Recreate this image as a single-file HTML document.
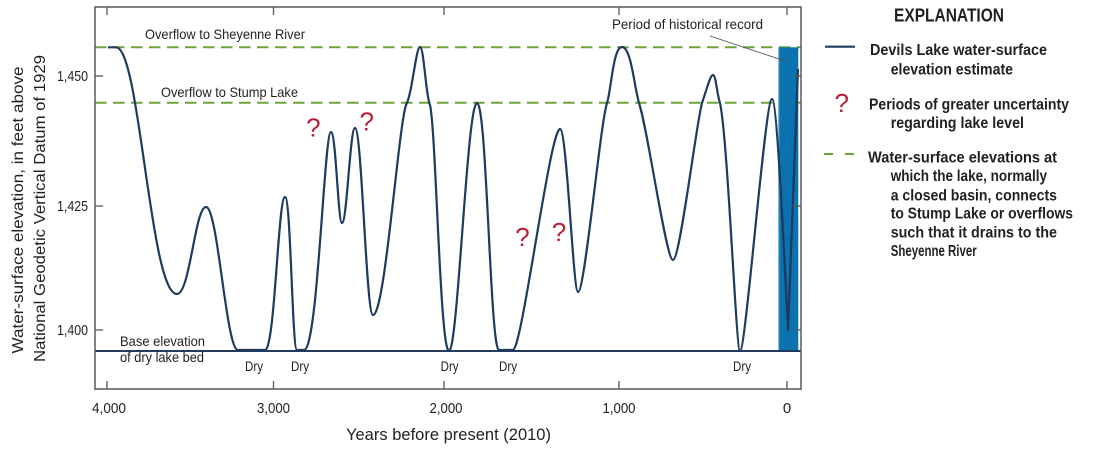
<!DOCTYPE html>
<html>
<head>
<meta charset="utf-8">
<style>
  html, body { margin: 0; padding: 0; background: #ffffff; }
  svg { display: block; }
  text { font-family: "Liberation Sans Narrow", "Liberation Sans", sans-serif; fill: #231f20; }
  .b { font-weight: bold; }
</style>
</head>
<body>
<svg width="1093" height="449" viewBox="0 0 1093 449" xmlns="http://www.w3.org/2000/svg">
  <rect x="0" y="0" width="1093" height="449" fill="#ffffff"/>

  <!-- green dashed overflow lines -->
  <line x1="95" y1="47.3" x2="801" y2="47.3" stroke="#6ea33a" stroke-width="2" stroke-dasharray="11.5 6.5"/>
  <line x1="95" y1="102.7" x2="801" y2="102.7" stroke="#6ea33a" stroke-width="2" stroke-dasharray="11.5 6.5"/>

  <!-- historical record bar -->
  <rect x="778.3" y="47.3" width="20" height="303.5" fill="#0a72ad"/>
  <line x1="778.8" y1="47.3" x2="778.8" y2="350.8" stroke="#6fb0da" stroke-width="1"/>

  <!-- base elevation line -->
  <line x1="95" y1="351" x2="801" y2="351" stroke="#243a5e" stroke-width="2"/>

  <!-- lake level curve -->
  <path fill="none" stroke="#1e3a5f" stroke-width="2.2" stroke-linejoin="round" d="
    M108,47.3 L116,47.3
    C140,47.3 150,294 177,294
    C190,294 195,207 206,207
    C218,207 226,350 238,350
    L265,350
    C275,350 278,197 285,197
    C291,197 292,350 297,350
    L304,350
    C318,350 324,132 331,132
    C336,132 338,223 342,223
    C347,223 350,128 355,128
    C362,128 366,315 373,315
    C385,315 398,130 406,105
    C412,95 416,47 420,47
    C424,47 426,98 430,105
    C436,130 440,351 449,351
    C458,351 467,103 477,103
    C487,103 490,350 499,350
    L513,350
    C522,350 550,129 560,129
    C567,129 573,292 578,292
    C585,292 600,125 607,103
    C611,92 613,47 622,47
    C631,47 634,85 639,103
    C648,130 666,260 673,260
    C680,260 696,125 702,103
    C706,92 710,75 713,75
    C716,75 717,95 720,103
    C728,140 736,351 740,351
    C746,351 765,99 772,99
    C777,99 784,250 788,330
    L798,69"/>

  <!-- frame -->
  <rect x="95" y="7" width="706" height="382" fill="none" stroke="#58595b" stroke-width="1.5"/>

  <!-- ticks -->
  <g stroke="#58595b" stroke-width="1.3">
    <line x1="95" y1="76" x2="103" y2="76"/>
    <line x1="95" y1="206" x2="103" y2="206"/>
    <line x1="95" y1="330" x2="103" y2="330"/>
    <line x1="801" y1="76" x2="793" y2="76"/>
    <line x1="801" y1="206" x2="793" y2="206"/>
    <line x1="801" y1="330" x2="793" y2="330"/>
    <line x1="107" y1="7" x2="107" y2="15"/>
    <line x1="273.5" y1="7" x2="273.5" y2="15"/>
    <line x1="444" y1="7" x2="444" y2="15"/>
    <line x1="619" y1="7" x2="619" y2="15"/>
    <line x1="787" y1="7" x2="787" y2="15"/>
    <line x1="107" y1="389" x2="107" y2="381"/>
    <line x1="273.5" y1="389" x2="273.5" y2="381"/>
    <line x1="444" y1="389" x2="444" y2="381"/>
    <line x1="619" y1="389" x2="619" y2="381"/>
    <line x1="787" y1="389" x2="787" y2="381"/>
  </g>

  <!-- leader line -->
  <line x1="710" y1="36" x2="788" y2="62" stroke="#4d4d4f" stroke-width="0.8"/>

  <!-- in-plot labels -->
  <text x="145" y="39" font-size="14" textLength="160" lengthAdjust="spacingAndGlyphs">Overflow to Sheyenne River</text>
  <text x="161" y="97" font-size="14" textLength="137" lengthAdjust="spacingAndGlyphs">Overflow to Stump Lake</text>
  <text x="612" y="29" font-size="14" textLength="151" lengthAdjust="spacingAndGlyphs">Period of historical record</text>
  <text x="120" y="346" font-size="14" textLength="85" lengthAdjust="spacingAndGlyphs">Base elevation</text>
  <text x="120" y="362" font-size="14" textLength="84" lengthAdjust="spacingAndGlyphs">of dry lake bed</text>

  <g font-size="14" text-anchor="middle">
    <text x="254" y="371" textLength="18" lengthAdjust="spacingAndGlyphs">Dry</text>
    <text x="300" y="371" textLength="18" lengthAdjust="spacingAndGlyphs">Dry</text>
    <text x="449.6" y="371" textLength="18" lengthAdjust="spacingAndGlyphs">Dry</text>
    <text x="508" y="371" textLength="18" lengthAdjust="spacingAndGlyphs">Dry</text>
    <text x="742" y="371" textLength="18" lengthAdjust="spacingAndGlyphs">Dry</text>
  </g>

  <!-- question marks -->
  <g font-size="26" text-anchor="middle">
    <text x="313.3" y="136.7" style="fill:#b8203a">?</text>
    <text x="366.7" y="130.7" style="fill:#b8203a">?</text>
    <text x="522.5" y="246" style="fill:#b8203a">?</text>
    <text x="559" y="241" style="fill:#b8203a">?</text>
  </g>

  <!-- y tick labels -->
  <g font-size="15" text-anchor="end">
    <text x="88" y="81" textLength="31" lengthAdjust="spacingAndGlyphs">1,450</text>
    <text x="88" y="211" textLength="31" lengthAdjust="spacingAndGlyphs">1,425</text>
    <text x="88" y="335" textLength="31" lengthAdjust="spacingAndGlyphs">1,400</text>
  </g>

  <!-- x tick labels -->
  <g font-size="15" text-anchor="middle">
    <text x="109" y="413" textLength="34" lengthAdjust="spacingAndGlyphs">4,000</text>
    <text x="273.5" y="413" textLength="33" lengthAdjust="spacingAndGlyphs">3,000</text>
    <text x="446" y="413" textLength="33" lengthAdjust="spacingAndGlyphs">2,000</text>
    <text x="619" y="413" textLength="33" lengthAdjust="spacingAndGlyphs">1,000</text>
    <text x="787" y="413">0</text>
  </g>

  <!-- axis titles -->
  <text x="448.5" y="440" font-size="17" text-anchor="middle" textLength="205" lengthAdjust="spacingAndGlyphs">Years before present (2010)</text>
  <text transform="translate(23,210) rotate(-90)" font-size="16" text-anchor="middle" textLength="287" lengthAdjust="spacingAndGlyphs">Water-surface elevation, in feet above</text>
  <text transform="translate(45,208.5) rotate(-90)" font-size="16" text-anchor="middle" textLength="307" lengthAdjust="spacingAndGlyphs">National Geodetic Vertical Datum of 1929</text>

  <!-- legend -->
  <text class="b" x="894" y="21.7" font-size="18" textLength="110" lengthAdjust="spacingAndGlyphs">EXPLANATION</text>

  <line x1="825" y1="46.7" x2="855" y2="46.7" stroke="#1e3a5f" stroke-width="2.2"/>
  <text class="b" x="870" y="55" font-size="16" textLength="177" lengthAdjust="spacingAndGlyphs">Devils Lake water-surface</text>
  <text class="b" x="890.7" y="74.5" font-size="16" textLength="122.3" lengthAdjust="spacingAndGlyphs">elevation estimate</text>

  <text x="841.7" y="112" font-size="26" text-anchor="middle" style="fill:#b8203a">?</text>
  <text class="b" x="869" y="109.5" font-size="16" textLength="200" lengthAdjust="spacingAndGlyphs">Periods of greater uncertainty</text>
  <text class="b" x="890.7" y="128" font-size="16" textLength="133.3" lengthAdjust="spacingAndGlyphs">regarding lake level</text>

  <line x1="824" y1="154" x2="833" y2="154" stroke="#6ea33a" stroke-width="2"/>
  <line x1="845" y1="154" x2="854" y2="154" stroke="#6ea33a" stroke-width="2"/>
  <text class="b" x="868" y="162.7" font-size="16" textLength="189" lengthAdjust="spacingAndGlyphs">Water-surface elevations at</text>
  <text class="b" x="890.7" y="181" font-size="16" textLength="156.3" lengthAdjust="spacingAndGlyphs">which the lake, normally</text>
  <text class="b" x="890.7" y="200.3" font-size="16" textLength="166.3" lengthAdjust="spacingAndGlyphs">a closed basin, connects</text>
  <text class="b" x="890.7" y="218.7" font-size="16" textLength="182.3" lengthAdjust="spacingAndGlyphs">to Stump Lake or overflows</text>
  <text class="b" x="890.7" y="237.7" font-size="16" textLength="166.3" lengthAdjust="spacingAndGlyphs">such that it drains to the</text>
  <text class="b" x="890.7" y="256" font-size="16" textLength="86" lengthAdjust="spacingAndGlyphs">Sheyenne River</text>
</svg>
</body>
</html>
